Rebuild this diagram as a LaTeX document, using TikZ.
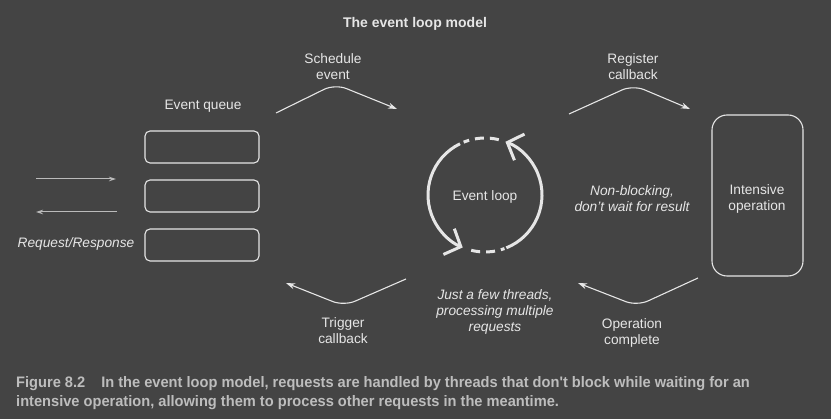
\documentclass[tikz,border=0pt]{standalone}
\usepackage{fontspec}
\setmainfont{Liberation Sans}
\newfontfamily\capfont[FakeStretch=0.962]{Liberation Sans}
\usetikzlibrary{arrows.meta,calc}
\definecolor{bg}{HTML}{444444}
\definecolor{fg}{HTML}{E6E6E6}
\definecolor{capc}{HTML}{BDBDBD}
\definecolor{lg}{HTML}{BBBBBB}
\begin{document}
\begin{tikzpicture}[x=1pt,y=-1pt,
  lbl/.style={text=fg, font=\fontsize{13.7}{16}\selectfont, align=center, inner sep=0pt, yshift=-1.5pt},
  ilbl/.style={lbl, font=\fontsize{13.7}{16}\selectfont\itshape},
  qbox/.style={draw=fg, line width=1.1pt, rounded corners=5pt, minimum width=114pt, minimum height=32pt, inner sep=0pt},
  flow/.style={draw=fg, line width=1.1pt, rounded corners=12pt, -{Stealth[length=9pt,width=6pt]}},
  rr/.style={draw=lg, line width=1pt, -{Stealth[length=7pt,width=4.5pt]}},
  loop/.style={draw=fg, line width=3pt},
  looparr/.style={loop, -{Straight Barb[length=13pt,width=28pt]}},
  capline/.style={text=capc, font=\capfont\bfseries\fontsize{15.2}{18}\selectfont, anchor=west, inner sep=0pt}
]
\fill[bg] (0,0) rectangle (831,419);
\useasboundingbox (0,0) rectangle (831,419);

\node[lbl, font=\bfseries\fontsize{14}{17}\selectfont] (title) at (415,22) {The event loop model};

% event queue
\node[lbl] (eqlabel) at (203,105) {Event queue};
\node[qbox] (q1) at (202,147) {};
\node[qbox] (q2) at (202,196) {};
\node[qbox] (q3) at (202,245) {};
\node[ilbl] (rr) at (76,242) {Request/Response};
\coordinate (ra1) at (36,179);
\coordinate (ra2) at (116,179);
\coordinate (la1) at (117,212);
\coordinate (la2) at (36,212);
\draw[rr] (ra1) -- (ra2);
\draw[rr] (la1) -- (la2);

% schedule event
\node[lbl] (sched) at (333,65) {Schedule\\event};
\coordinate (s1) at (276,113);
\coordinate (s2) at (335,84);
\coordinate (s3) at (397,109);
\draw[flow] (s1) -- (s2) -- (s3);

% register callback
\node[lbl] (reg) at (633,65) {Register\\callback};
\coordinate (r1) at (569,114);
\coordinate (r2) at (633,85);
\coordinate (r3) at (690,109);
\draw[flow] (r1) -- (r2) -- (r3);

% trigger callback
\node[lbl] (trig) at (343,329) {Trigger\\callback};
\coordinate (t1) at (406,279);
\coordinate (t2) at (344,306);
\coordinate (t3) at (286,283);
\draw[flow] (t1) -- (t2) -- (t3);

% operation complete
\node[lbl] (opc) at (632,331) {Operation\\complete};
\coordinate (o1) at (698,278);
\coordinate (o2) at (637,306);
\coordinate (o3) at (578,283);
\draw[flow] (o1) -- (o2) -- (o3);

% event loop
\node[lbl] (el) at (485,195) {Event loop};
\coordinate (c) at (485,195);
\draw[looparr] ($(c)+(-116:57)$) arc[start angle=-116, end angle=-247, radius=57];
\draw[loop, dash pattern=on 9pt off 6pt] ($(c)+(-256:57)$) arc[start angle=-256, end angle=-290, radius=57];
\draw[looparr] ($(c)+(68:57)$) arc[start angle=68, end angle=-69, radius=57];
\draw[loop, dash pattern=on 9pt off 6pt] ($(c)+(-76:57)$) arc[start angle=-76, end angle=-112, radius=57];

\node[ilbl] (threads) at (495,310) {Just a few threads,\\processing multiple\\requests};
\node[ilbl] (nb) at (632,197) {Non-blocking,\\don't wait for result};

% intensive operation
\node[draw=fg, line width=1.1pt, rounded corners=15pt, minimum width=91pt, minimum height=161pt, inner sep=0pt] (io) at (757.5,195.5) {};
\node[lbl] (iotext) at (757,197) {Intensive\\operation};

% caption
\node[capline] (cap1) at (16,383.5) {Figure 8.2\hspace{16pt}In the event loop model, requests are handled by threads that don't block while waiting for an};
\node[capline] (cap2) at (16,403) {intensive operation, allowing them to process other requests in the meantime.};
\end{tikzpicture}
\end{document}
